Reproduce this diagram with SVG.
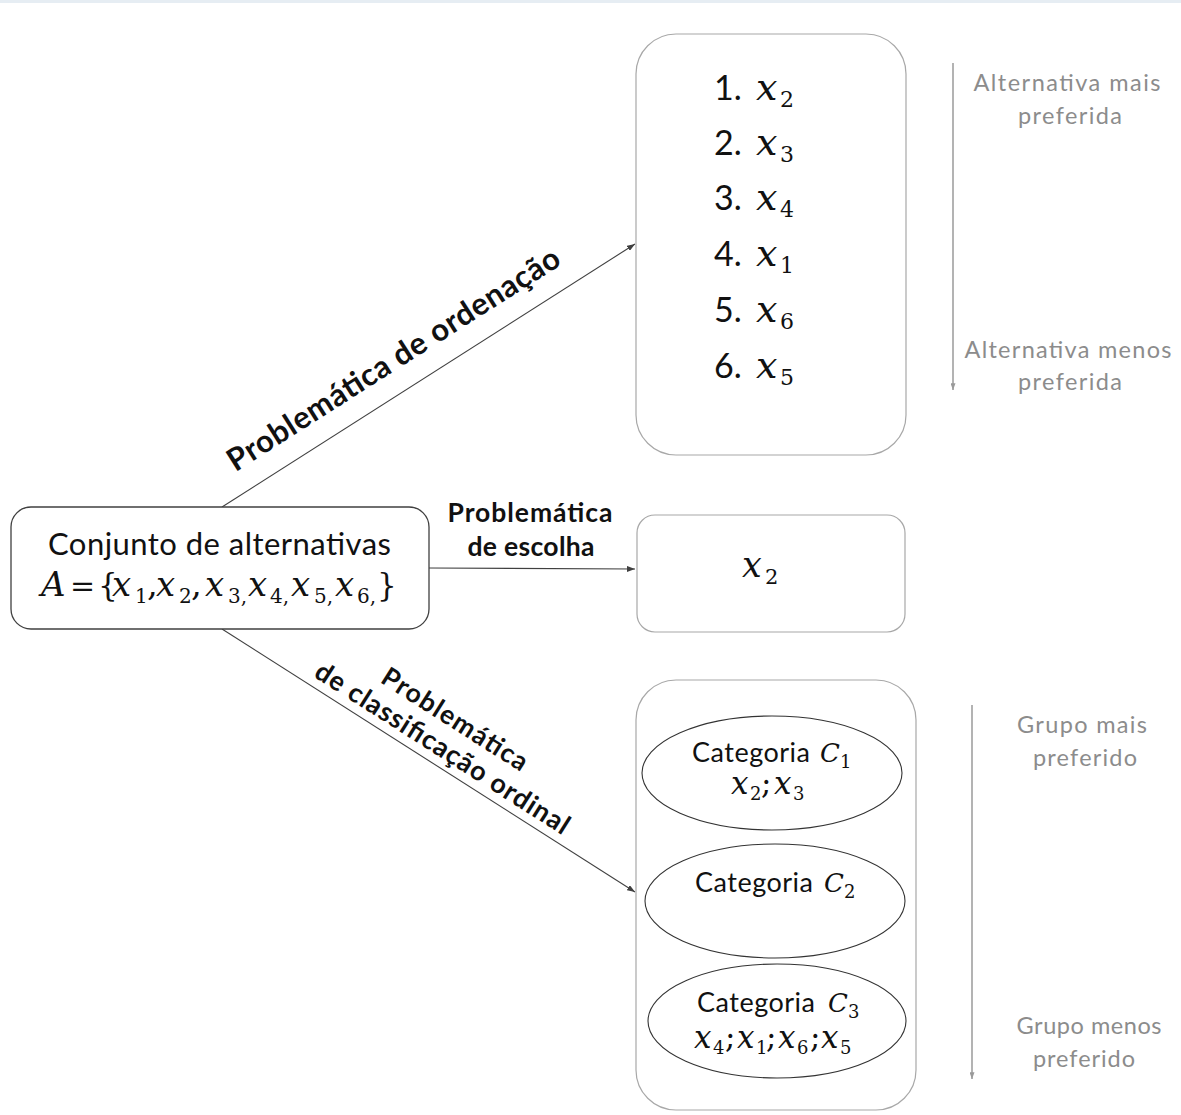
<svg xmlns="http://www.w3.org/2000/svg" width="1181" height="1115" viewBox="0 0 1181 1115">
  <defs>
    <marker id="tip" viewBox="0 0 8 6" refX="8" refY="3" markerWidth="8" markerHeight="6" markerUnits="userSpaceOnUse" orient="auto">
      <path d="M0,0 L8,3 L0,6 z" fill="#404040"/>
    </marker>
    <marker id="tipGray" viewBox="0 0 8 6" refX="8" refY="3" markerWidth="7" markerHeight="5" markerUnits="userSpaceOnUse" orient="auto">
      <path d="M0,0 L8,3 L0,6 z" fill="#9a9a9a"/>
    </marker>
  </defs>
  <style>
    .sans { font-family: Lato, "Open Sans", "Liberation Sans", sans-serif; fill: #111; }
    .bold { font-weight: 700; }
    .math { font-family: "DejaVu Serif", "Liberation Serif", serif; fill: #111; }
    .it { font-style: italic; }
    .side { font-family: Lato, "Open Sans", "Liberation Sans", sans-serif; fill: #8c8c8c; font-size: 23.5px; text-anchor: middle; }
    .panel { fill: #fff; stroke: #a8a8a8; stroke-width: 1.2; }
    .cat { fill: #fff; stroke: #333; stroke-width: 1.1; }
    .link { stroke: #404040; stroke-width: 1.1; fill: none; }
    .scale { stroke: #9a9a9a; stroke-width: 1.5; fill: none; }
  </style>

  <rect x="0" y="0" width="1181" height="1115" fill="#fff"/>
  <rect x="0" y="0" width="1181" height="3" fill="#e6edf3"/>

  <!-- connectors -->
  <g id="connectors">
    <line class="link" x1="222" y1="507" x2="635" y2="244" marker-end="url(#tip)"/>
    <line class="link" x1="429" y1="568" x2="635" y2="569" marker-end="url(#tip)"/>
    <line class="link" x1="222" y1="629" x2="635" y2="892" marker-end="url(#tip)"/>
    <line class="scale" x1="953" y1="63" x2="953" y2="390" marker-end="url(#tipGray)"/>
    <line class="scale" x1="972" y1="705" x2="972" y2="1079" marker-end="url(#tipGray)"/>
  </g>

  <!-- connector labels -->
  <g id="label-ordenacao" transform="translate(222,507) rotate(-32.5)">
    <text class="sans bold" x="30" y="-22" font-size="31" textLength="388">Problemática de ordenação</text>
  </g>
  <g id="label-escolha">
    <text class="sans bold" x="530" y="522" font-size="26.5" text-anchor="middle" textLength="165">Problemática</text>
    <text class="sans bold" x="531" y="556" font-size="26.5" text-anchor="middle" textLength="127">de escolha</text>
  </g>
  <g id="label-classificacao" transform="translate(222,629) rotate(32.5)">
    <text class="sans bold" x="245" y="-40" font-size="26.5" text-anchor="middle" textLength="168">Problemática</text>
    <text class="sans bold" x="250" y="-9" font-size="27" text-anchor="middle" textLength="296">de classificação ordinal</text>
  </g>

  <!-- source set -->
  <g id="node-conjunto">
    <rect x="11" y="507" width="418" height="122" rx="20" fill="#fff" stroke="#404040" stroke-width="1.3"/>
    <text class="sans" x="48" y="555" font-size="31" textLength="343">Conjunto de alternativas</text>
    <text class="math" font-size="34">
      <tspan class="it" x="41" y="596">A</tspan>
      <tspan x="70" y="596" font-size="30">=</tspan>
      <tspan x="98" y="596" font-size="31">{</tspan>
      <tspan class="it" x="112" y="596">x</tspan><tspan x="135" y="603" font-size="20">1</tspan><tspan x="147" y="596">,</tspan>
      <tspan class="it" x="156" y="596">x</tspan><tspan x="179" y="603" font-size="20">2</tspan><tspan x="191" y="596">,</tspan>
      <tspan class="it" x="205" y="596">x</tspan><tspan x="228" y="603" font-size="20">3,</tspan>
      <tspan class="it" x="248" y="596">x</tspan><tspan x="270" y="603" font-size="20">4,</tspan>
      <tspan class="it" x="291" y="596">x</tspan><tspan x="314" y="603" font-size="20">5,</tspan>
      <tspan class="it" x="335" y="596">x</tspan><tspan x="357" y="603" font-size="20">6,</tspan>
      <tspan x="377" y="596" font-size="31">}</tspan>
    </text>
  </g>

  <!-- ranking result -->
  <g id="node-ordenacao">
    <rect class="panel" x="636" y="34" width="270" height="421" rx="40"/>
    <g class="sans" font-size="34">
      <text x="714" y="100">1.</text>
      <text x="714" y="155">2.</text>
      <text x="714" y="210">3.</text>
      <text x="714" y="266">4.</text>
      <text x="714" y="322">5.</text>
      <text x="714" y="378">6.</text>
    </g>
    <g class="math">
      <text x="756" y="100"><tspan class="it" font-size="38">x</tspan><tspan x="780" y="107" font-size="22">2</tspan></text>
      <text x="756" y="155"><tspan class="it" font-size="38">x</tspan><tspan x="780" y="162" font-size="22">3</tspan></text>
      <text x="756" y="210"><tspan class="it" font-size="38">x</tspan><tspan x="780" y="217" font-size="22">4</tspan></text>
      <text x="756" y="266"><tspan class="it" font-size="38">x</tspan><tspan x="780" y="273" font-size="22">1</tspan></text>
      <text x="756" y="322"><tspan class="it" font-size="38">x</tspan><tspan x="780" y="329" font-size="22">6</tspan></text>
      <text x="756" y="378"><tspan class="it" font-size="38">x</tspan><tspan x="780" y="385" font-size="22">5</tspan></text>
    </g>
  </g>
  <g id="note-ordenacao">
    <text class="side" x="1067" y="91" textLength="187">Alternativa mais</text>
    <text class="side" x="1070" y="124" textLength="104">preferida</text>
    <text class="side" x="1068" y="358" textLength="207">Alternativa menos</text>
    <text class="side" x="1070" y="390" textLength="104">preferida</text>
  </g>

  <!-- choice result -->
  <g id="node-escolha">
    <rect class="panel" x="637" y="515" width="268" height="117" rx="18"/>
    <text class="math" x="742" y="577"><tspan class="it" font-size="35">x</tspan><tspan x="765" y="584" font-size="21">2</tspan></text>
  </g>

  <!-- ordinal classification result -->
  <g id="node-classificacao">
    <rect class="panel" x="636" y="680" width="280" height="430" rx="40"/>
    <g id="cat-1">
      <ellipse class="cat" cx="772" cy="773" rx="130" ry="57"/>
      <text class="sans" x="692" y="762" font-size="27" textLength="118">Categoria</text>
      <text class="math" x="820" y="762"><tspan class="it" font-size="26">C</tspan><tspan x="840" y="768" font-size="18">1</tspan></text>
      <text class="math" font-size="31">
        <tspan class="it" x="731" y="794">x</tspan><tspan x="750" y="800" font-size="18">2</tspan><tspan x="761" y="794">;</tspan>
        <tspan class="it" x="774" y="794">x</tspan><tspan x="793" y="800" font-size="18">3</tspan>
      </text>
    </g>
    <g id="cat-2">
      <ellipse class="cat" cx="775" cy="901" rx="130" ry="57"/>
      <text class="sans" x="695" y="892" font-size="27" textLength="118">Categoria</text>
      <text class="math" x="824" y="892"><tspan class="it" font-size="26">C</tspan><tspan x="844" y="898" font-size="18">2</tspan></text>
    </g>
    <g id="cat-3">
      <ellipse class="cat" cx="777" cy="1021" rx="129" ry="57"/>
      <text class="sans" x="697" y="1012" font-size="27" textLength="118">Categoria</text>
      <text class="math" x="828" y="1012"><tspan class="it" font-size="26">C</tspan><tspan x="848" y="1018" font-size="18">3</tspan></text>
      <text class="math" font-size="31">
        <tspan class="it" x="694" y="1048">x</tspan><tspan x="713" y="1054" font-size="18">4</tspan><tspan x="725" y="1048">;</tspan>
        <tspan class="it" x="737" y="1048">x</tspan><tspan x="756" y="1054" font-size="18">1</tspan><tspan x="766" y="1048">;</tspan>
        <tspan class="it" x="778" y="1048">x</tspan><tspan x="797" y="1054" font-size="18">6</tspan><tspan x="810" y="1048">;</tspan>
        <tspan class="it" x="821" y="1048">x</tspan><tspan x="840" y="1054" font-size="18">5</tspan>
      </text>
    </g>
  </g>
  <g id="note-classificacao">
    <text class="side" x="1082" y="733" textLength="130">Grupo mais</text>
    <text class="side" x="1085" y="766" textLength="104">preferido</text>
    <text class="side" x="1089" y="1034" textLength="145">Grupo menos</text>
    <text class="side" x="1084" y="1067" textLength="102">preferido</text>
  </g>
</svg>
